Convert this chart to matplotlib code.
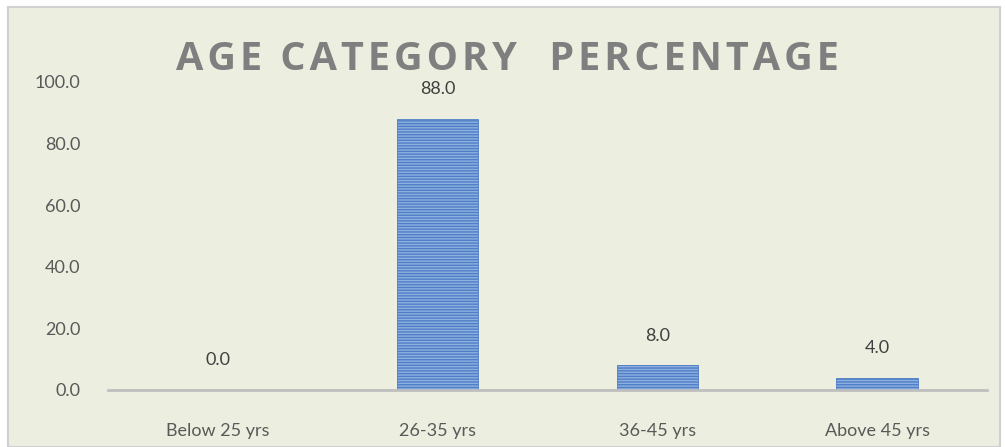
import matplotlib
matplotlib.use("Agg")
import matplotlib.pyplot as plt
from matplotlib.patches import Rectangle

categories = ["Below 25 yrs", "26-35 yrs", "36-45 yrs", "Above 45 yrs"]
values = [0.0, 88.0, 8.0, 4.0]
yticks = [0, 20, 40, 60, 80, 100]
title = "AGE CATEGORY  PERCENTAGE"

plt.rcParams['font.family'] = ['Lato', 'DejaVu Sans']
plt.rcParams['hatch.linewidth'] = 1.0

W, H = 1005, 447
fig = plt.figure(figsize=(W/100, H/100), dpi=100)
fig.patch.set_facecolor('white')
bg = '#ECEFE0'
fig.patches.append(Rectangle((8/W, 0), (1000-8)/W, (H-7)/H, transform=fig.transFigure,
                             facecolor=bg, edgecolor='#D0D0D0', linewidth=1.5, zorder=-5))

ax = fig.add_axes([108/W, (H-390)/H, (987-108)/W, (390-82)/H])
ax.set_facecolor('none')
x = range(len(categories))
bars = ax.bar(x, values, width=0.37, color='#8EB0E0', edgecolor='#4F7EC6', hatch='------',
              linewidth=0.6, zorder=2)
for xi, v in zip(x, values):
    ax.text(xi, v + 7, f"{v:.1f}", ha='center', va='bottom', fontsize=13, color='#404040')

ax.set_xlim(-0.5, 3.5)
ax.set_ylim(0, 100)
ax.set_yticks(yticks)
ax.set_yticklabels([f"{t:.1f}" for t in yticks])
ax.set_xticks(list(x))
ax.set_xticklabels(categories)
ax.tick_params(axis='both', length=0, labelsize=13, colors='#595959')
ax.tick_params(axis='y', pad=20)
ax.tick_params(axis='x', pad=24)
for s in ['top', 'right', 'left']:
    ax.spines[s].set_visible(False)
ax.spines['bottom'].set_color('#BFBFBF')
ax.spines['bottom'].set_linewidth(2)

spaced = "\u200a".join(title)
fig.text(507/W, (H-60)/H, spaced, ha='center', va='center',
         fontsize=28.5, fontweight='bold', color='#7F7F7F', family=['Open Sans', 'DejaVu Sans'])

fig.savefig("out.png", dpi=100, facecolor=fig.get_facecolor())
